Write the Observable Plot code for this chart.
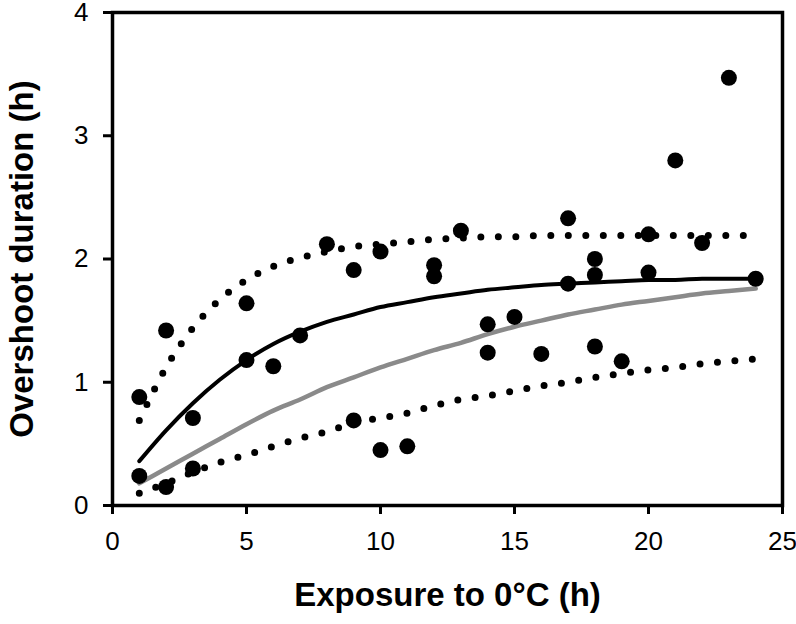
<!DOCTYPE html>
<html>
<head>
<meta charset="utf-8">
<script src="https://cdn.jsdelivr.net/npm/d3@7"></script>
<script src="https://cdn.jsdelivr.net/npm/@observablehq/plot@0.6"></script>
<style>
  html, body { margin: 0; padding: 0; background: #fff; }
  #chart svg { display: block; }
  #chart g[aria-label="x-axis tick"] path,
  #chart g[aria-label="y-axis tick"] path { stroke-width: 3px; stroke: #000; }
  #chart g[aria-label="x-axis tick label"] text,
  #chart g[aria-label="y-axis tick label"] text { font-family: 'Liberation Sans Narrow', 'Arial Narrow', 'Liberation Sans', Arial, sans-serif; }
</style>
</head>
<body>
<div id="chart"></div>
<script>
// Observed points
const pointX = [1, 1, 2, 2, 3, 3, 5, 5, 6, 7, 8, 9, 9, 10, 10, 11, 12, 12, 13, 14, 14, 15, 16, 17, 17, 18, 18, 18, 19, 20, 20, 21, 22, 23, 24];
const pointY = [0.88, 0.24, 1.42, 0.15, 0.71, 0.30, 1.64, 1.18, 1.13, 1.38, 2.12, 1.91, 0.69, 2.06, 0.45, 0.48, 1.95, 1.86, 2.23, 1.47, 1.24, 1.53, 1.23, 2.33, 1.80, 2.00, 1.87, 1.29, 1.17, 2.20, 1.89, 2.80, 2.13, 3.47, 1.84];

// Curves (at integer exposures)
const curveX = [1, 2, 3, 4, 5, 6, 7, 8, 9, 10, 11, 12, 13, 14, 15, 16, 17, 18, 19, 20, 21, 22, 23, 24];
const fitBlack = [0.36, 0.61, 0.83, 1.02, 1.18, 1.31, 1.41, 1.49, 1.55, 1.61, 1.65, 1.69, 1.72, 1.75, 1.77, 1.79, 1.80, 1.81, 1.82, 1.83, 1.83, 1.84, 1.84, 1.84];
const fitGray = [0.18, 0.30, 0.42, 0.54, 0.66, 0.77, 0.86, 0.96, 1.04, 1.12, 1.19, 1.26, 1.32, 1.39, 1.45, 1.50, 1.55, 1.59, 1.63, 1.66, 1.69, 1.72, 1.74, 1.76];
const upperBound = [0.69, 1.12, 1.44, 1.67, 1.83, 1.94, 2.01, 2.06, 2.10, 2.12, 2.14, 2.16, 2.17, 2.18, 2.18, 2.19, 2.19, 2.19, 2.19, 2.19, 2.19, 2.19, 2.19, 2.19];
const lowerBound = [0.10, 0.18, 0.27, 0.35, 0.41, 0.48, 0.545, 0.60, 0.67, 0.71, 0.75, 0.81, 0.86, 0.89, 0.93, 0.97, 1.00, 1.04, 1.07, 1.10, 1.12, 1.15, 1.17, 1.19];

// Axis ticks and titles
const xTicks = [0, 5, 10, 15, 20, 25];
const yTicks = [0, 1, 2, 3, 4];
const xTitle = "Exposure to 0°C (h)";
const yTitle = "Overshoot duration (h)";

const points = pointX.map((x, i) => ({x, y: pointY[i]}));
const curve = (ys) => curveX.map((x, i) => ({x, y: ys[i]}));

const font = "'Liberation Sans', Arial, Helvetica, sans-serif";

const chart = Plot.plot({
  width: 796,
  height: 624,
  marginLeft: 112,
  marginRight: 14,
  marginTop: 12,
  marginBottom: 119,
  style: {fontFamily: font, background: "#fff", color: "#000"},
  x: {domain: [0, 25]},
  y: {domain: [0, 4]},
  marks: [
    Plot.axisX({ticks: xTicks, tickFormat: "d", tickSize: 9, tickPadding: 17, fontSize: 26, strokeWidth: 3, label: null}),
    Plot.axisY({ticks: yTicks, tickFormat: "d", tickSize: 9, tickPadding: 15, fontSize: 26, strokeWidth: 3, label: null}),
    Plot.line(curve(upperBound), {x: "x", y: "y", curve: "monotone-x", stroke: "#000", strokeWidth: 7, strokeDasharray: "0 17.5", strokeLinecap: "round"}),
    Plot.line(curve(lowerBound), {x: "x", y: "y", curve: "monotone-x", stroke: "#000", strokeWidth: 7, strokeDasharray: "0 17.5", strokeLinecap: "round"}),
    Plot.line(curve(fitGray), {x: "x", y: "y", curve: "monotone-x", stroke: "#8a8a8a", strokeWidth: 4.5}),
    Plot.line(curve(fitBlack), {x: "x", y: "y", curve: "monotone-x", stroke: "#000", strokeWidth: 4}),
    Plot.dot(points, {x: "x", y: "y", r: 8, fill: "#000", stroke: null}),
    Plot.frame({stroke: "#000", strokeWidth: 3.5}),
    Plot.text([xTitle], {frameAnchor: "bottom", dy: 100, fontSize: 33, fontWeight: "bold", fill: "#000"}),
    Plot.text([yTitle], {frameAnchor: "left", dx: -90, rotate: -90, textAnchor: "middle", fontSize: 33, fontWeight: "bold", fill: "#000"})
  ]
});
document.getElementById("chart").appendChild(chart);
</script>
</body>
</html>
